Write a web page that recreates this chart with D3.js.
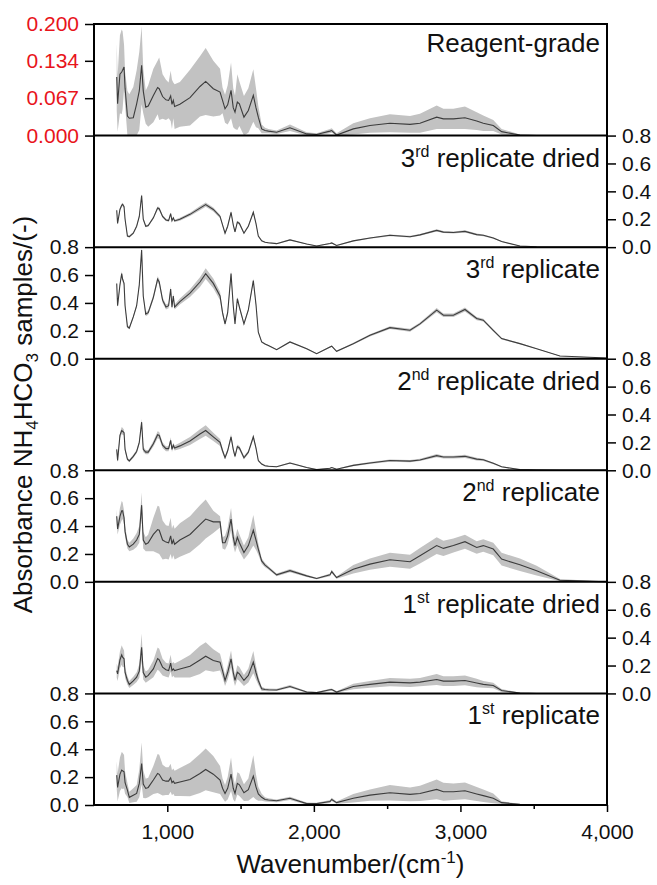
<!DOCTYPE html>
<html>
<head>
<meta charset="utf-8">
<script src="https://cdn.jsdelivr.net/npm/d3@7"></script>
<style>
body { margin: 0; background: #fff; }
#chart text { font-family: Arial, "Liberation Sans", sans-serif; }
</style>
</head>
<body>
<div id="chart"></div>
<script>
// wavenumbers (cm-1) shared by every spectrum
var wavenumber = [655,661,677,689,695,705,712,728,741,768, 791,809,825,836,853,870,905,934,945,968,
  991,1009,1023,1032,1041,1050,1086,1155,1223,1262, 1314,1360,1377,1394,1412,1435,1450,1462,1478,1492,
  1523,1553,1587,1605,1621,1644,1667,1690,1746,1837, 1951,2019,2110,2122,2155,2269,2383,2519,2656,2724,
  2838,2884,2952,3031,3111,3156,3224,3281,3406,3520, 3679,4000];

var meanReagent = [.105,.057,.11,.114,.117,.123,.085,.035,.031,.032, .057,.08,.126,.08,.051,.053,.072,.086,.084,.07,
  .064,.063,.071,.056,.063,.052,.056,.068,.088,.097, .084,.078,.063,.048,.055,.081,.05,.042,.06,.057,
  .033,.045,.072,.05,.033,.012,.009,.008,.006,.014, .003,.002,.008,.009,.001,.012,.018,.022,.02,.022,
  .033,.03,.03,.032,.026,.022,.018,.007,.001,0, 0,0];
var sdReagent = [.06,.05,.07,.076,.07,.04,.03,.045,.043,.055, .06,.07,.07,.04,.03,.037,.048,.048,.056,.04,
  .036,.032,.045,.044,.032,.04,.04,.05,.054,.06, .05,.042,.023,.025,.035,.05,.035,.03,.05,.04,
  .038,.04,.047,.035,.02,.008,.005,.004,.003,.006, .003,.002,.004,.004,.003,.01,.013,.016,.015,.017,
  .021,.018,.018,.02,.016,.014,.01,.005,.001,0, 0,0];

var meanRep3Dried = [.264,.17,.27,.30,.307,.29,.20,.08,.075,.10, .15,.22,.37,.20,.15,.155,.21,.28,.275,.22,
  .195,.19,.24,.19,.21,.188,.20,.235,.28,.305, .27,.22,.16,.10,.15,.25,.16,.11,.18,.17,
  .10,.15,.25,.17,.08,.045,.035,.031,.025,.052, .022,.008,.026,.03,.012,.045,.065,.085,.075,.088,
  .12,.108,.105,.113,.09,.085,.066,.04,.008,.003, 0,0];
var sdRep3Dried = [.012,.01,.01,.012,.012,.012,.01,.008,.008,.008, .008,.01,.012,.01,.008,.008,.01,.012,.012,.01,
  .008,.008,.01,.008,.008,.008,.01,.012,.015,.016, .014,.012,.01,.008,.01,.012,.01,.008,.01,.01,
  .008,.008,.01,.008,.006,.005,.004,.004,.004,.005, .003,.003,.004,.004,.003,.004,.005,.006,.006,.006,
  .008,.007,.007,.008,.007,.006,.005,.004,.002,.001, 0,0];

var meanRep3 = [.54,.38,.53,.61,.57,.54,.38,.23,.22,.30, .38,.53,.78,.45,.32,.33,.44,.57,.55,.42,
  .37,.38,.50,.37,.45,.37,.41,.47,.55,.61, .54,.45,.33,.25,.33,.61,.38,.25,.43,.37,
  .25,.35,.56,.39,.19,.12,.105,.094,.065,.12, .072,.036,.084,.09,.053,.108,.168,.223,.204,.25,
  .348,.312,.312,.353,.288,.276,.204,.144,.108,.072, .019,.005];
var sdRep3 = [.015,.012,.015,.018,.018,.015,.012,.01,.01,.01, .012,.015,.02,.015,.015,.015,.018,.022,.022,.02,
  .018,.018,.02,.018,.018,.018,.022,.028,.035,.038, .035,.03,.02,.015,.018,.02,.015,.012,.015,.015,
  .012,.012,.015,.012,.008,.006,.005,.005,.005,.006, .005,.004,.005,.005,.004,.006,.008,.01,.01,.01,
  .015,.013,.013,.015,.012,.01,.008,.006,.004,.003, .002,0];

var meanRep2Dried = [.15,.07,.25,.285,.28,.27,.15,.08,.067,.10, .135,.20,.345,.15,.13,.13,.19,.255,.25,.18,
  .155,.155,.215,.15,.18,.16,.175,.21,.26,.285, .24,.20,.14,.09,.14,.24,.15,.10,.17,.16,
  .09,.13,.24,.16,.07,.045,.033,.029,.025,.052, .02,.005,.015,.02,.008,.035,.052,.07,.066,.074,
  .105,.095,.095,.10,.08,.075,.05,.025,.005,.002, 0,0];
var sdRep2Dried = [.02,.015,.02,.025,.025,.02,.015,.01,.01,.012, .012,.018,.025,.018,.015,.015,.02,.025,.025,.02,
  .018,.018,.022,.018,.018,.018,.022,.028,.035,.038, .03,.025,.018,.012,.015,.02,.015,.012,.015,.015,
  .012,.012,.018,.012,.008,.006,.005,.005,.004,.006, .004,.003,.004,.004,.003,.006,.007,.008,.008,.008,
  .012,.01,.01,.012,.01,.008,.006,.004,.002,.001, 0,0];

var meanRep2 = [.47,.38,.47,.51,.51,.46,.36,.27,.25,.27, .30,.34,.55,.30,.27,.28,.34,.375,.37,.30,
  .285,.28,.33,.27,.30,.27,.30,.34,.41,.45, .43,.43,.28,.28,.33,.45,.32,.26,.32,.28,
  .21,.26,.37,.30,.235,.15,.12,.10,.05,.08, .043,.024,.05,.074,.031,.09,.127,.159,.144,.187,
  .26,.24,.26,.288,.247,.26,.235,.163,.122,.08, .012,0];
var sdRep2 = [.05,.04,.06,.07,.06,.05,.04,.03,.03,.04, .05,.06,.09,.06,.05,.06,.12,.17,.17,.14,
  .12,.12,.13,.11,.11,.11,.12,.13,.14,.14, .08,.04,.04,.05,.06,.08,.06,.05,.06,.06,
  .05,.06,.11,.07,.04,.02,.015,.012,.01,.012, .008,.006,.01,.012,.008,.03,.04,.05,.05,.055,
  .06,.055,.05,.05,.045,.045,.045,.045,.045,.035, .008,0];

var meanRep1Dried = [.164,.14,.24,.276,.26,.248,.15,.093,.064,.09, .117,.16,.33,.15,.117,.129,.176,.25,.24,.188,
  .17,.164,.217,.164,.176,.164,.175,.195,.24,.267, .236,.224,.164,.093,.15,.248,.15,.093,.152,.14,
  .093,.129,.224,.15,.093,.033,.028,.026,.025,.05, .01,.006,.026,.028,.01,.05,.065,.081,.076,.081,
  .10,.088,.088,.093,.075,.065,.057,.021,.002,0, 0,0];
var sdRep1Dried = [.05,.05,.06,.07,.07,.06,.04,.03,.025,.03, .035,.05,.1,.05,.04,.04,.06,.08,.08,.06,
  .05,.05,.06,.05,.05,.05,.06,.08,.1,.1, .08,.06,.05,.04,.05,.06,.05,.04,.05,.05,
  .04,.05,.08,.05,.03,.015,.01,.01,.008,.01, .006,.005,.008,.008,.006,.02,.025,.03,.03,.03,
  .04,.035,.035,.035,.03,.025,.02,.01,.003,0, 0,0];

var meanRep1 = [.214,.126,.22,.25,.245,.238,.16,.107,.055,.07, .083,.155,.298,.15,.119,.126,.179,.226,.22,.179,
  .171,.171,.195,.16,.171,.155,.165,.183,.226,.255, .221,.179,.12,.083,.12,.221,.12,.083,.155,.145,
  .088,.11,.207,.13,.08,.055,.04,.036,.03,.048, .01,.01,.025,.04,.017,.048,.071,.088,.076,.083,
  .112,.095,.095,.102,.079,.067,.048,.017,.005,0, 0,0];
var sdRep1 = [.1,.1,.12,.13,.13,.12,.08,.05,.04,.05, .06,.1,.15,.1,.07,.07,.1,.14,.14,.11,
  .1,.1,.1,.09,.09,.09,.1,.12,.14,.15, .13,.1,.07,.06,.08,.12,.08,.06,.08,.08,
  .06,.08,.15,.09,.05,.025,.015,.012,.01,.012, .008,.006,.01,.012,.008,.03,.04,.055,.05,.055,
  .07,.065,.06,.06,.05,.045,.035,.01,.003,0, 0,0];

// top to bottom
var panelMeans = [meanReagent, meanRep3Dried, meanRep3, meanRep2Dried, meanRep2, meanRep1Dried, meanRep1];
var panelSds = [sdReagent, sdRep3Dried, sdRep3, sdRep2Dried, sdRep2, sdRep1Dried, sdRep1];
var labelMain = ["Reagent-grade", "3", "3", "2", "2", "1", "1"];
var labelSup = ["", "rd", "rd", "nd", "nd", "st", "st"];
var labelRest = ["", " replicate dried", " replicate", " replicate dried", " replicate", " replicate dried", " replicate"];

var xTicks = [1000, 2000, 3000, 4000];
var xMinorTicks = [1500, 2500, 3500];
var yTicksReagent = [0, 0.067, 0.134, 0.2];
var yTicks = [0, 0.2, 0.4, 0.6, 0.8];

var chart_w = 657, chart_h = 885;
var plot_l = 94, plot_r = 607, plot_t = 24, plot_b = 805;
var panel_h = (plot_b - plot_t) / panelMeans.length;

var svg = d3.select("#chart").append("svg").attr("width", chart_w).attr("height", chart_h);

var x = d3.scaleLinear().domain([500, 4000]).range([plot_l, plot_r]);

panelMeans.forEach(function(means, i) {
  var ymax = i == 0 ? 0.2 : 0.8;
  var y = d3.scaleLinear().domain([0, ymax]).range([plot_t + (i + 1) * panel_h, plot_t + i * panel_h]);
  var sds = panelSds[i];
  var rows = wavenumber.map(function(w, j) { return {w: w, m: means[j], s: sds[j]}; });

  var area = d3.area()
    .x(function(d) { return x(d.w); })
    .y0(function(d) { return y(Math.max(0, d.m - d.s)); })
    .y1(function(d) { return y(Math.min(ymax, d.m + d.s)); });
  var line = d3.line()
    .x(function(d) { return x(d.w); })
    .y(function(d) { return y(d.m); });

  var g = svg.append("g").attr("class", "panel");
  g.append("path").datum(rows).attr("d", area).attr("fill", "#c2c2c2");
  g.append("path").datum(rows).attr("d", line)
    .attr("fill", "none").attr("stroke", "#3c3c3c").attr("stroke-width", 1.1);

  // y axis alternates left / right
  var axis;
  if (i % 2 == 0) {
    axis = d3.axisLeft(y).tickValues(i == 0 ? yTicksReagent : yTicks)
      .tickFormat(d3.format(i == 0 ? ".3f" : ".1f"));
  } else {
    axis = d3.axisRight(y).tickValues(yTicks).tickFormat(d3.format(".1f"));
  }
  axis.tickSize(9).tickPadding(6);
  var ga = svg.append("g")
    .attr("transform", "translate(" + (i % 2 == 0 ? plot_l : plot_r) + ",0)")
    .call(axis);
  ga.select(".domain").remove();
  ga.selectAll("line").attr("stroke", "#000").attr("stroke-width", 1.5);
  ga.selectAll("text").attr("font-size", "21px")
    .attr("fill", i == 0 ? "#e8141b" : "#111");

  var label = svg.append("text")
    .attr("x", plot_r - 7)
    .attr("y", plot_t + i * panel_h + (i == 0 ? 28 : 31))
    .attr("text-anchor", "end")
    .attr("font-size", "26px")
    .attr("fill", "#111");
  label.append("tspan").text(labelMain[i]);
  if (labelSup[i]) {
    label.append("tspan").attr("dy", -10).attr("font-size", "16px").text(labelSup[i]);
    label.append("tspan").attr("dy", 10).text(labelRest[i]);
  }
});

// panel frame and dividers
svg.append("rect")
  .attr("x", plot_l).attr("y", plot_t)
  .attr("width", plot_r - plot_l).attr("height", plot_b - plot_t)
  .attr("fill", "none").attr("stroke", "#000").attr("stroke-width", 2);
svg.selectAll(".divider")
  .data(d3.range(1, panelMeans.length))
  .enter().append("line")
    .attr("class", "divider")
    .attr("x1", plot_l).attr("x2", plot_r)
    .attr("y1", function(d) { return plot_t + d * panel_h; })
    .attr("y2", function(d) { return plot_t + d * panel_h; })
    .attr("stroke", "#000").attr("stroke-width", 2);

var gx = svg.append("g")
  .attr("transform", "translate(0," + plot_b + ")")
  .call(d3.axisBottom(x).tickValues(xTicks).tickFormat(d3.format(",")).tickSize(7).tickPadding(12));
gx.select(".domain").remove();
gx.selectAll("line").attr("stroke", "#000").attr("stroke-width", 1.5);
gx.selectAll("text").attr("font-size", "21px").attr("fill", "#111");

var gm = svg.append("g")
  .attr("transform", "translate(0," + plot_b + ")")
  .call(d3.axisBottom(x).tickValues(xMinorTicks).tickFormat("").tickSize(4));
gm.select(".domain").remove();
gm.selectAll("line").attr("stroke", "#000").attr("stroke-width", 1.5);

// axis titles
var xt = svg.append("text")
  .attr("x", (plot_l + plot_r) / 2).attr("y", 873)
  .attr("text-anchor", "middle").attr("font-size", "26px").attr("fill", "#111");
xt.append("tspan").text("Wavenumber/(cm");
xt.append("tspan").attr("dy", -10).attr("font-size", "17px").text("-1");
xt.append("tspan").attr("dy", 10).text(")");

var yt = svg.append("text")
  .attr("transform", "translate(32," + (plot_t + plot_b) / 2 + ") rotate(-90)")
  .attr("text-anchor", "middle").attr("font-size", "26px").attr("fill", "#111");
yt.append("tspan").text("Absorbance NH");
yt.append("tspan").attr("dy", 6).attr("font-size", "17px").text("4");
yt.append("tspan").attr("dy", -6).text("HCO");
yt.append("tspan").attr("dy", 6).attr("font-size", "17px").text("3");
yt.append("tspan").attr("dy", -6).text(" samples/(-)");
</script>
</body>
</html>
